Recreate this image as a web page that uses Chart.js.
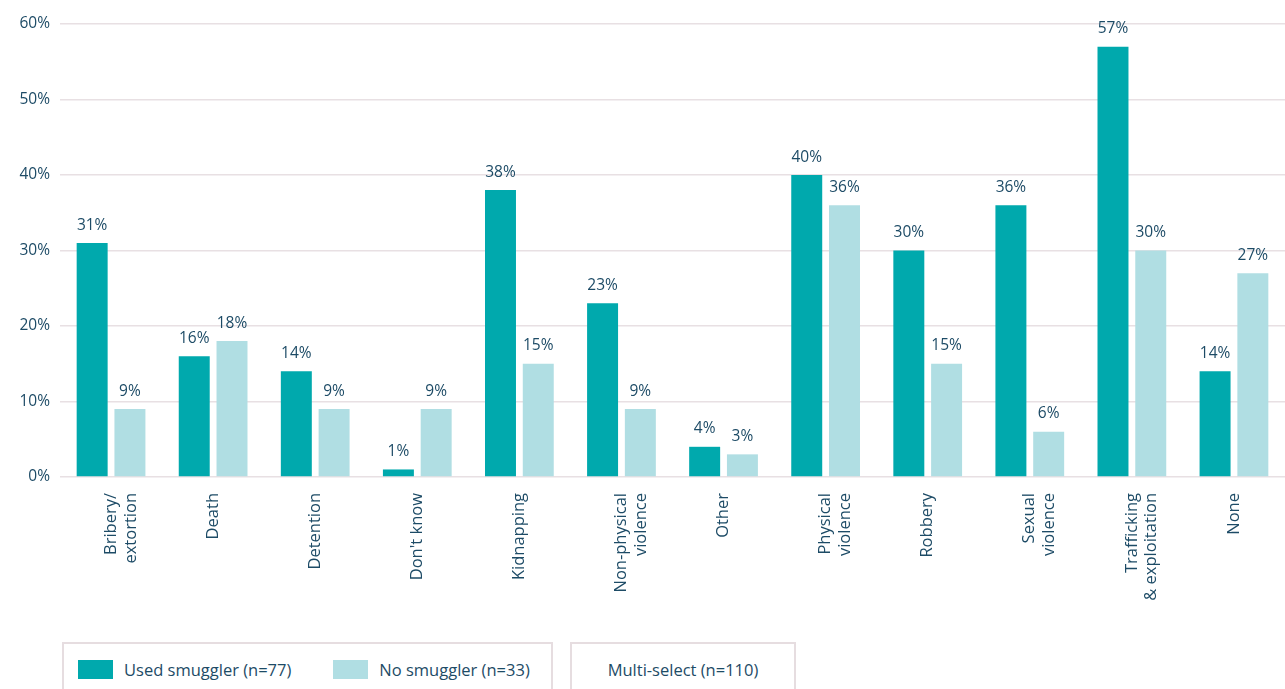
<!DOCTYPE html>
<html>
<head>
<meta charset="utf-8">
<script src="https://cdn.jsdelivr.net/npm/chart.js@4.4.0/dist/chart.umd.min.js"></script>
<style>
    body { margin: 0; background: #fff; font-family: 'Open Sans', sans-serif; color: #1d4b66; }
    #wrap { position: relative; width: 1285px; height: 689px; overflow: hidden; }
    #chartBox { position: absolute; left: 0; top: 0; width: 1285px; height: 640px; }
    .legend-box {
        position: absolute; top: 642px; height: 60px;
        border: 2px solid #e6dde0; box-sizing: border-box;
        display: flex; align-items: flex-start; padding-top: 14px;
        font-size: 16.5px; white-space: nowrap;
    }
    #legendSeries { left: 62px; width: 491px; padding-left: 14px; }
    #legendNote { left: 570px; width: 226px; justify-content: center; padding-top: 14px; }
    .item { display: flex; align-items: center; flex-shrink: 0; margin-right: 42px; }
    .swatch { width: 35px; height: 19px; margin-right: 11px; flex-shrink: 0; }
</style>
</head>
<body>
<div id="wrap">
    <div id="chartBox"><canvas id="riskChart"></canvas></div>
    <div class="legend-box" id="legendSeries"></div>
    <div class="legend-box" id="legendNote">Multi-select (n=110)</div>
</div>
<script>
const categories = [
    ['Bribery/', 'extortion'], 'Death', 'Detention', "Don't know", 'Kidnapping',
    ['Non-physical', 'violence'], 'Other', ['Physical', 'violence'], 'Robbery',
    ['Sexual', 'violence'], ['Trafficking', '& exploitation'], 'None'
];
const usedSmuggler = [31, 16, 14, 1, 38, 23, 4, 40, 30, 36, 57, 14];
const noSmuggler = [9, 18, 9, 9, 15, 9, 3, 36, 15, 6, 30, 27];
const seriesNames = ['Used smuggler (n=77)', 'No smuggler (n=33)'];
const yTicks = [0, 10, 20, 30, 40, 50, 60];

const TEXT = '#1d4b66';
const FONT = "'Open Sans', sans-serif";

// value labels above each bar
const barLabels = {
    id: 'barLabels',
    afterDatasetsDraw(chart) {
        const ctx = chart.ctx;
        ctx.save();
        ctx.fillStyle = TEXT;
        ctx.font = `15.5px ${FONT}`;
        ctx.textAlign = 'center';
        ctx.textBaseline = 'bottom';
        chart.data.datasets.forEach((ds, i) => {
            chart.getDatasetMeta(i).data.forEach((bar, j) => {
                ctx.fillText(ds.data[j] + '%', bar.x, bar.y - 10);
            });
        });
        ctx.restore();
    }
};

const chart = new Chart(document.getElementById('riskChart'), {
    type: 'bar',
    data: {
        labels: categories,
        datasets: [
            { label: seriesNames[0], data: usedSmuggler, backgroundColor: '#00a9ad' },
            { label: seriesNames[1], data: noSmuggler, backgroundColor: '#b0dee3' }
        ]
    },
    options: {
        responsive: true,
        maintainAspectRatio: false,
        animation: false,
        layout: { padding: { top: 24, right: 0, left: 0, bottom: 0 } },
        datasets: { bar: { categoryPercentage: 0.74, barPercentage: 0.82 } },
        plugins: {
            legend: { display: false },
            tooltip: { enabled: false }
        },
        scales: {
            x: {
                grid: { display: false },
                border: { display: false },
                ticks: {
                    color: TEXT,
                    font: { family: FONT, size: 16.5 },
                    minRotation: 90,
                    maxRotation: 90,
                    autoSkip: false,
                    padding: 8
                },
                afterFit(scale) { scale.height = 163; }
            },
            y: {
                min: 0,
                max: 60,
                afterBuildTicks(scale) { scale.ticks = yTicks.map(v => ({ value: v })); },
                grid: { color: '#e8e0e3', lineWidth: 1.5, drawTicks: false },
                border: { display: false },
                ticks: {
                    color: TEXT,
                    font: { family: FONT, size: 15.5 },
                    padding: 10,
                    callback: value => value + '%'
                },
                afterFit(scale) { scale.width = 60; }
            }
        }
    },
    plugins: [barLabels]
});

document.getElementById('legendSeries').innerHTML = chart.data.datasets.map(ds => `
    <div class="item">
        <div class="swatch" style="background:${ds.backgroundColor}"></div>
        <span>${ds.label}</span>
    </div>
`).join('');
</script>
</body>
</html>
